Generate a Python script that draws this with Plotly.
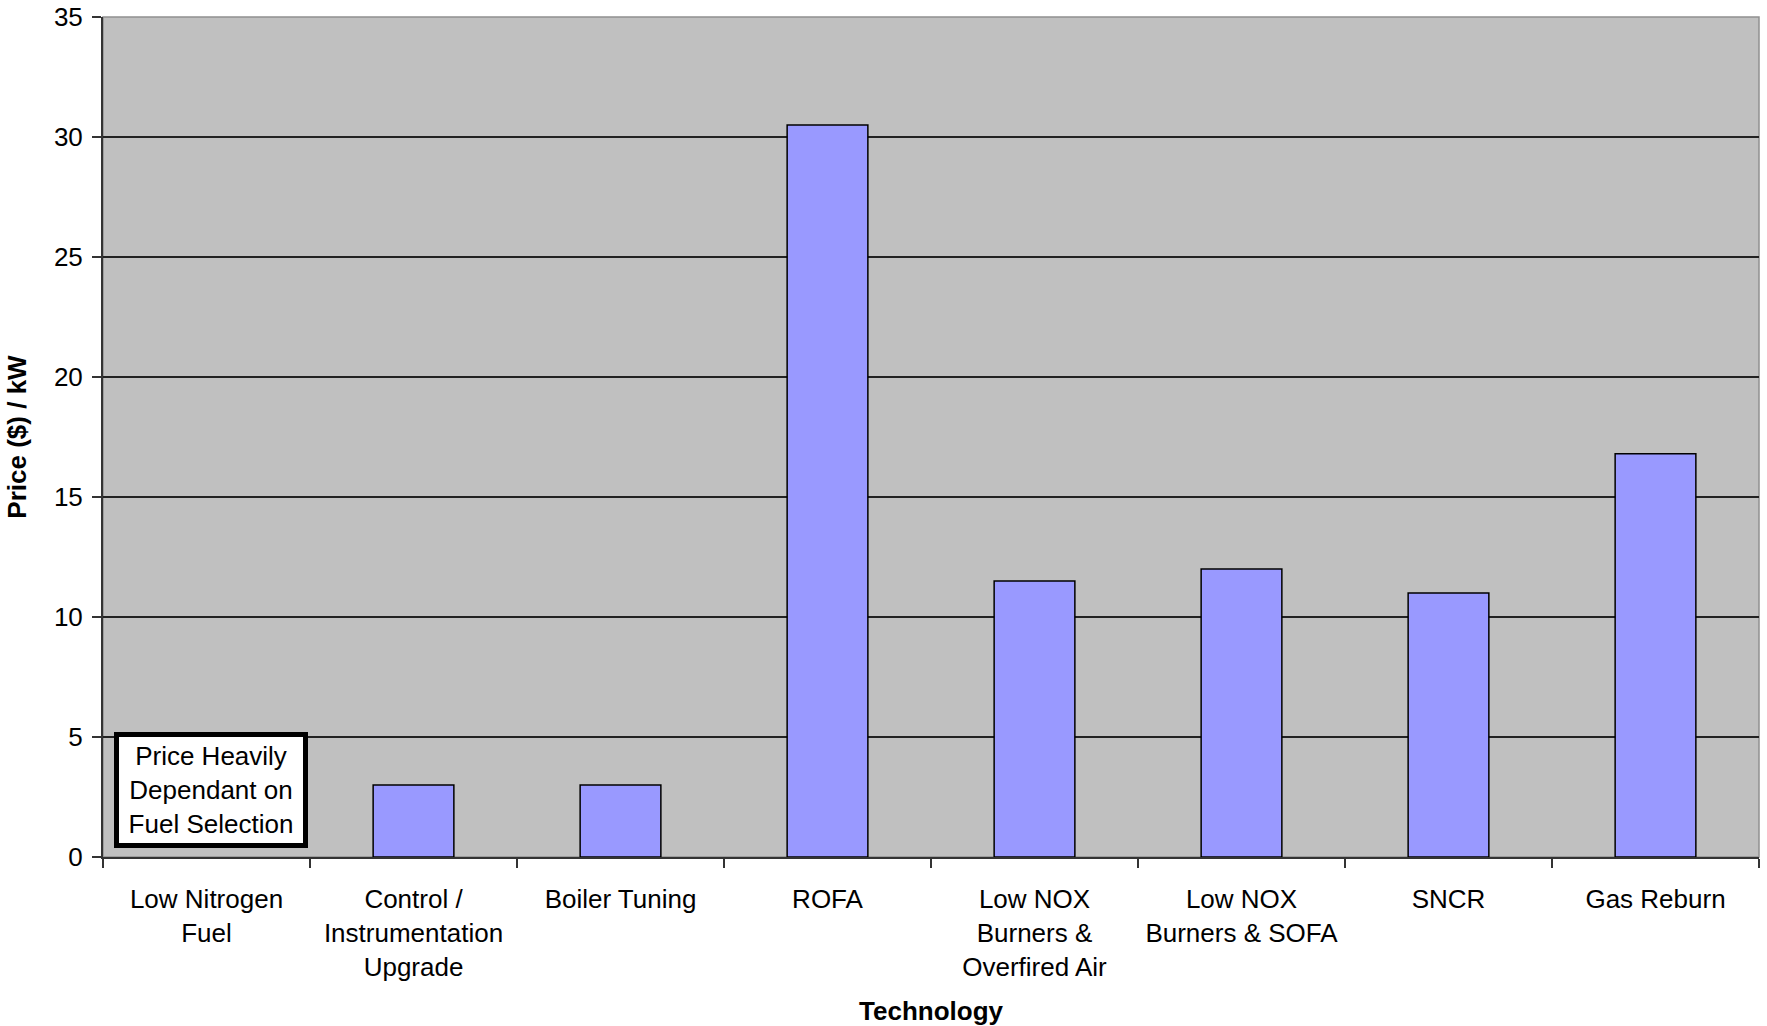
import plotly.graph_objects as go

categories = [
    "Low Nitrogen<br>Fuel",
    "Control /<br>Instrumentation<br>Upgrade",
    "Boiler Tuning",
    "ROFA",
    "Low NOX<br>Burners &<br>Overfired Air",
    "Low NOX<br>Burners & SOFA",
    "SNCR",
    "Gas Reburn",
]
prices = [None, 3.0, 3.0, 30.5, 11.5, 12.0, 11.0, 16.8]
y_ticks = [0, 5, 10, 15, 20, 25, 30, 35]
note_text = "Price Heavily<br>Dependant on<br>Fuel Selection"

FONT = "Liberation Sans, Arial, sans-serif"

fig = go.Figure()
fig.add_trace(go.Bar(
    x=categories,
    y=prices,
    marker=dict(color="#9999FF", line=dict(color="#000000", width=1.5)),
    width=0.39,
    showlegend=False,
))

fig.add_annotation(
    x=categories[0], y=2.8, xref="x", yref="y", xshift=4,
    text=note_text, showarrow=False,
    font=dict(family=FONT, size=26, color="#000000"),
    bgcolor="#FFFFFF", bordercolor="#000000", borderwidth=5, borderpad=4,
    width=176, align="center",
)

fig.update_layout(
    width=1767, height=1026,
    margin=dict(l=103, r=8, t=17, b=169),
    paper_bgcolor="#FFFFFF",
    plot_bgcolor="#C0C0C0",
    font=dict(family=FONT, size=26, color="#000000"),
    bargap=0.6,
    shapes=[dict(type="rect", xref="paper", yref="paper", x0=0, x1=1, y0=0, y1=1,
                 line=dict(color="#909090", width=1.5), layer="below")],
)

fig.update_xaxes(
    type="category",
    automargin=False,
    tickson="boundaries",
    ticks="outside", ticklen=9, tickcolor="#333333", tickwidth=1.5,
    showline=True, linecolor="#333333", linewidth=2,
    showgrid=False,
    tickfont=dict(family=FONT, size=26),
    ticklabelstandoff=18,
    title=dict(text="<b>Technology</b>", font=dict(family=FONT, size=26), standoff=24),
)
fig.update_yaxes(
    range=[0, 35],
    automargin=False,
    tickvals=y_ticks,
    ticks="outside", ticklen=9, tickcolor="#333333", tickwidth=1.5,
    showline=True, linecolor="#333333", linewidth=2,
    showgrid=True, gridcolor="#222222", gridwidth=1.5,
    zeroline=False,
    tickfont=dict(family=FONT, size=26),
    ticklabelstandoff=4,
    title=dict(text="<b>Price ($) / kW</b>", font=dict(family=FONT, size=26), standoff=20),
)

fig.write_html("out.html")
